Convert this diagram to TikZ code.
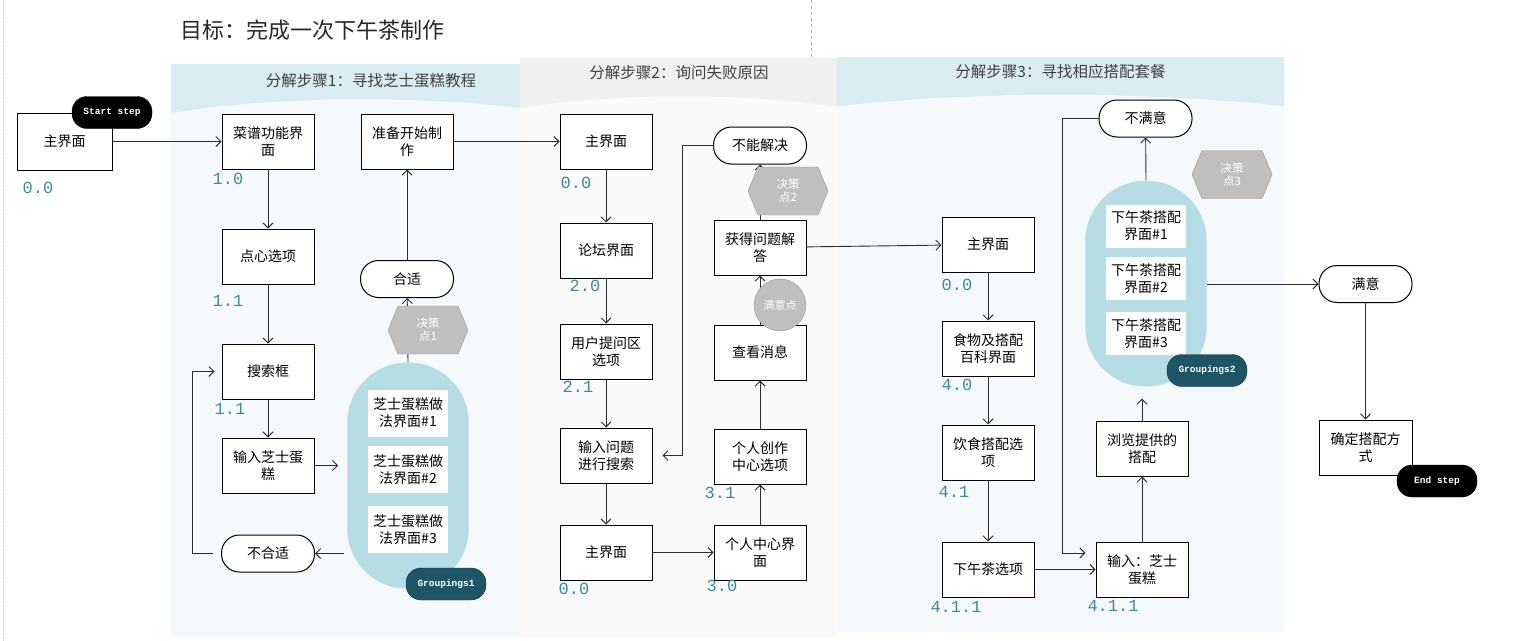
\documentclass[tikz,border=0pt]{standalone}
\usepackage{fontspec}
\usepackage{xcolor}
\usepackage{tikz}
\usetikzlibrary{shapes.geometric, shapes.symbols, arrows.meta, positioning, fit, backgrounds, calc}
\newfontfamily\cjk{Noto Sans CJK SC}
\setmonofont{Liberation Mono}
\definecolor{hdrblue}{RGB}{217, 236, 242}
\definecolor{bodyblue}{RGB}{245, 249, 251}
\definecolor{hdrgray}{RGB}{240, 240, 240}
\definecolor{bodygray}{RGB}{250, 250, 250}
\definecolor{grpblue}{RGB}{182, 220, 230}
\definecolor{grpdark}{RGB}{31, 85, 101}
\definecolor{decgray}{RGB}{191, 191, 191}
\definecolor{decedge}{RGB}{150, 150, 150}
\definecolor{numteal}{RGB}{58, 138, 162}
\definecolor{linegray}{RGB}{45, 45, 45}
\definecolor{lanetext}{RGB}{64, 64, 64}
\definecolor{titletext}{RGB}{40, 40, 40}
\definecolor{dashgray}{RGB}{175, 175, 175}
\tikzset{
    font=\cjk\fontsize{14}{17}\selectfont,
    uibox/.style={rectangle, draw=black, fill=white, line width=1pt, align=center, minimum width=92pt, minimum height=55pt, inner sep=1pt},
    termbox/.style={uibox, rounded corners=18pt, minimum width=93pt, minimum height=37pt},
    screen/.style={rectangle, fill=white, align=center, minimum width=80pt, minimum height=43pt, inner sep=0pt},
    groupbox/.style={rectangle, rounded corners=60pt, fill=grpblue, inner xsep=20.5pt},
    grouptag/.style={rectangle, rounded corners=15pt, fill=grpdark, draw=grpdark!60!black, text=white, font=\ttfamily\bfseries\fontsize{9.5}{10}\selectfont, minimum width=80pt, minimum height=32pt},
    steptag/.style={grouptag, fill=black, draw=black},
    decision/.style={signal, signal to=west and east, signal pointer angle=135, fill=decgray, draw=decedge, text=white, align=center, minimum width=80pt, minimum height=48pt, inner sep=0pt, font=\cjk\fontsize{11.5}{13}\selectfont},
    happy/.style={circle, fill=decgray, draw=decedge, text=white, minimum size=52pt, inner sep=0pt, font=\cjk\fontsize{11}{12}\selectfont},
    numlabel/.style={text=numteal, font=\ttfamily\fontsize{17}{17}\selectfont},
    lanetitle/.style={text=lanetext, font=\cjk\fontsize{15.5}{16}\selectfont},
    arrow/.style={-{Straight Barb[length=5pt, width=10pt]}, line width=0.9pt, color=linegray}
}
\begin{document}
\begin{tikzpicture}[x=1pt, y=-1pt]
    \useasboundingbox (0,0) rectangle (1518,640);

    % Swimlanes
    \begin{scope}[on background layer]
        \fill [bodyblue] (171,64) rectangle (520,637);
        \fill [hdrblue] (171,64) -- (520,64) -- (520,108) .. controls (420,96) and (280,95) .. (171,113) -- cycle;
        \fill [bodygray] (520,58) rectangle (837,637);
        \fill [hdrgray] (520,58) -- (837,58) -- (837,107) .. controls (740,92.5) and (620,92.5) .. (520,108) -- cycle;
        \fill [bodyblue] (837,57) rectangle (1284,632);
        \fill [hdrblue] (837,57) -- (1284,57) -- (1284,106) .. controls (1135,91) and (985,91) .. (837,106) -- cycle;
    \end{scope}
    \draw [dashgray, dashed] (811,0) -- (811,57);
    \draw [dashgray!50, densely dotted] (3,0) -- (3,640);

    \node (title) [font=\cjk\fontsize{22}{24}\selectfont, text=titletext] at (312,30) {目标：完成一次下午茶制作};
    \node (lane1) [lanetitle] at (371,80.5) {分解步骤1：寻找芝士蛋糕教程};
    \node (lane2) [lanetitle] at (679,73) {分解步骤2：询问失败原因};
    \node (lane3) [lanetitle] at (1060.5,72) {分解步骤3：寻找相应搭配套餐};

    % Step 1
    \node (home)   [uibox, minimum width=95pt, minimum height=57pt] at (64.5,141.5) {主界面};
    \node (menu)   [uibox] at (268,141.5) {菜谱功能界\\面};
    \node (snack)  [uibox, below=59pt of menu] {点心选项};
    \node (search) [uibox, below=59pt of snack] {搜索框};
    \node (input)  [uibox, below=38pt of search] {输入芝士蛋\\糕};
    \node (nofit)  [termbox, below=41pt of input] {不合适};
    \node (ready)  [uibox] at (407,141.5) {准备开始制\\作};
    \node (okay)   [termbox] at (407,279) {合适};
    \node (cake1)  [screen, minimum height=47pt] at (408,413) {芝士蛋糕做\\法界面\#1};
    \node (cake2)  [screen, minimum height=47pt, below=9pt of cake1] {芝士蛋糕做\\法界面\#2};
    \node (cake3)  [screen, minimum height=47pt, below=13pt of cake2] {芝士蛋糕做\\法界面\#3};

    % Step 2
    \node (home2)    [uibox] at (606,141.5) {主界面};
    \node (forum)    [uibox, below=53pt of home2] {论坛界面};
    \node (ask)      [uibox, below=45pt of forum] {用户提问区\\选项};
    \node (query)    [uibox, below=48pt of ask] {输入问题\\进行搜索};
    \node (home3)    [uibox, below=41pt of query] {主界面};
    \node (profile)  [uibox, right=61pt of home3] {个人中心界\\面};
    \node (studio)   [uibox, above=40pt of profile] {个人创作\\中心选项};
    \node (inbox)    [uibox, above=48pt of studio] {查看消息};
    \node (reply)    [uibox, above=49pt of inbox] {获得问题解\\答};
    \node (unsolved) [termbox, above=55pt of reply] {不能解决};

    % Step 3
    \node (home4)   [uibox] at (988,244.5) {主界面};
    \node (wiki)    [uibox, below=48pt of home4] {食物及搭配\\百科界面};
    \node (diet)    [uibox, below=48pt of wiki] {饮食搭配选\\项};
    \node (tea)     [uibox, below=61pt of diet] {下午茶选项};
    \node (entry)   [uibox, right=61pt of tea] {输入：芝士\\蛋糕};
    \node (browse)  [uibox, above=65pt of entry] {浏览提供的\\搭配};
    \node (unhappy) [termbox] at (1145.5,118.5) {不满意};
    \node (pleased) [termbox] at (1365.5,284) {满意};
    \node (confirm) [uibox, minimum width=93pt] at (1365.5,447.5) {确定搭配方\\式};
    \node (combo1)  [screen] at (1146,226) {下午茶搭配\\界面\#1};
    \node (combo2)  [screen, below=9pt of combo1] {下午茶搭配\\界面\#2};
    \node (combo3)  [screen, below=12pt of combo2] {下午茶搭配\\界面\#3};

    \begin{scope}[on background layer]
        \node (grp1) [groupbox, fit=(cake1) (cake3), inner ysep=31pt, yshift=-4.25pt] {};
        \node (grp2) [groupbox, fit=(combo1) (combo3), inner ysep=27.25pt, yshift=-3.75pt] {};
    \end{scope}

    % Numbers
    \node (n00a)  [numlabel] at (38,188) {0.0};
    \node (n10)   [numlabel] at (228,179) {1.0};
    \node (n11a)  [numlabel] at (228,301) {1.1};
    \node (n11b)  [numlabel] at (230,409) {1.1};
    \node (n00b)  [numlabel] at (576,183) {0.0};
    \node (n20)   [numlabel] at (585,286) {2.0};
    \node (n21)   [numlabel] at (578,387) {2.1};
    \node (n00c)  [numlabel] at (574,589) {0.0};
    \node (n30)   [numlabel] at (722,586) {3.0};
    \node (n31)   [numlabel] at (720,493) {3.1};
    \node (n00d)  [numlabel] at (957,285) {0.0};
    \node (n40)   [numlabel] at (957,385) {4.0};
    \node (n41)   [numlabel] at (954,492) {4.1};
    \node (n411a) [numlabel] at (956,607) {4.1.1};
    \node (n411b) [numlabel] at (1113,606) {4.1.1};

    % Arrows
    \draw [arrow] (home) -- (menu);
    \draw [arrow] (menu) -- (snack);
    \draw [arrow] (snack) -- (search);
    \draw [arrow] (search) -- (input);
    \draw [arrow, shorten >=9pt] (input) -- (input -| grp1.west);
    \draw [arrow, shorten <=3pt] (grp1.west |- nofit) -- (nofit);
    \draw [arrow, shorten <=8pt, shorten >=7pt] (nofit.west) -- ++(-29,0) |- (search.west);
    \draw [arrow] (grp1.north) -- (okay);
    \draw [arrow] (okay) -- (ready);
    \draw [arrow] (ready) -- (home2);

    \draw [arrow] (home2) -- (forum);
    \draw [arrow] (forum) -- (ask);
    \draw [arrow] (ask) -- (query);
    \draw [arrow] (query) -- (home3);
    \draw [arrow] (home3) -- (profile);
    \draw [arrow] (profile) -- (studio);
    \draw [arrow] (studio) -- (inbox);
    \draw [arrow] (inbox) -- (reply);
    \draw [arrow] (reply) -- (unsolved);
    \draw [arrow, shorten >=10pt] (unsolved.west) -- ++(-31,0) |- (query.east);
    \draw [arrow] (reply) -- (home4);

    \draw [arrow] (home4) -- (wiki);
    \draw [arrow] (wiki) -- (diet);
    \draw [arrow] (diet) -- (tea);
    \draw [arrow] (tea) -- (entry);
    \draw [arrow] (entry) -- (browse);
    \draw [arrow, shorten >=12pt] (browse) -- (browse |- grp2.south);
    \draw [arrow] (grp2.north) -- (unhappy);
    \draw [arrow, shorten >=10pt] (unhappy.west) -- ++(-36,0) |- ([yshift=16.5pt]entry.west);
    \draw [arrow] (grp2.east |- pleased) -- (pleased);
    \draw [arrow] (pleased) -- (confirm);

    % Decision points and tags
    \node (dec1)  [decision] at (428,330) {决策\\点1};
    \node (dec2)  [decision] at (788,191) {决策\\点2};
    \node (dec3)  [decision] at (1232,174.5) {决策\\点3};
    \node (satpt) [happy] at (780,305) {满意点};
    \node (tag1)  [grouptag] at (446,584) {Groupings1};
    \node (tag2)  [grouptag] at (1207,370.5) {Groupings2};
    \node (start) [steptag] at (112,112.5) {Start step};
    \node (finish) [steptag] at (1437,481) {End step};

\end{tikzpicture}
\end{document}
